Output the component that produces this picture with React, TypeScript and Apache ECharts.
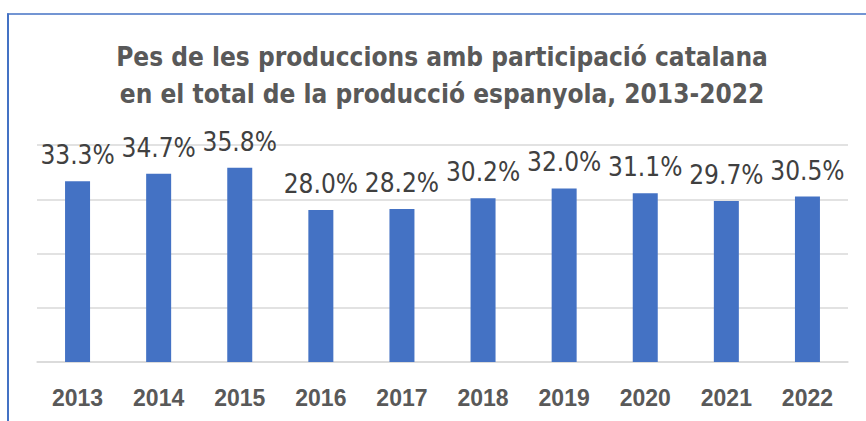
import React, { useEffect, useRef } from "react";
import * as echarts from "echarts";

const categories = ["2013", "2014", "2015", "2016", "2017", "2018", "2019", "2020", "2021", "2022"];
const values = [33.3, 34.7, 35.8, 28.0, 28.2, 30.2, 32.0, 31.1, 29.7, 30.5];
const titleText = "Pes de les produccions amb participació catalana\nen el total de la producció espanyola, 2013-2022";

export default function App() {
  const ref = useRef<HTMLDivElement>(null);
  useEffect(() => {
    if (!ref.current) return;
    const chart = echarts.init(ref.current, undefined, { renderer: "svg" });
    chart.setOption({
      animation: false,
      backgroundColor: "#ffffff",
      title: {
        text: titleText,
        left: 442,
        top: 38,
        padding: 0,
        textAlign: "center",
        textStyle: {
          fontFamily: "'Liberation Sans Narrow', 'DejaVu Sans Condensed', sans-serif",
          fontWeight: "bold",
          fontSize: 26,
          lineHeight: 37,
          color: "#595959",
        },
      },
      grid: { left: 37, right: 18, top: 145, bottom: 59 },
      xAxis: {
        type: "category",
        data: categories,
        axisLine: { show: true, lineStyle: { color: "#D9D9D9", width: 1.5 } },
        axisTick: { show: false },
        axisLabel: {
          margin: 24,
          fontFamily: "'Liberation Sans', Arial, sans-serif",
          fontWeight: "bold",
          fontSize: 23,
          color: "#595959",
        },
      },
      yAxis: {
        type: "value",
        min: 0,
        max: 40,
        interval: 10,
        axisLabel: { show: false },
        axisLine: { show: false },
        axisTick: { show: false },
        splitLine: { lineStyle: { color: "#D9D9D9", width: 1.5 } },
      },
      series: [
        {
          type: "bar",
          data: values,
          barWidth: 25,
          itemStyle: { color: "#4472C4" },
          label: {
            show: true,
            position: "top",
            distance: 13,
            formatter: (p: any) => p.value.toFixed(1) + "%",
            fontFamily: "'Liberation Sans Narrow', 'DejaVu Sans Condensed', sans-serif",
            fontSize: 26,
            color: "#404040",
          },
        },
      ],
      graphic: [
        {
          type: "line",
          shape: { x1: 7, y1: 14, x2: 866, y2: 14 },
          style: { stroke: "#4472C4", lineWidth: 1.5 },
        },
        {
          type: "line",
          shape: { x1: 8, y1: 13.5, x2: 8, y2: 421 },
          style: { stroke: "#4472C4", lineWidth: 2 },
        },
      ],
    });
    return () => chart.dispose();
  }, []);
  return (
    <div
      ref={ref}
      style={{ position: "fixed", left: 0, top: 0, width: 866, height: 421 }}
    />
  );
}
